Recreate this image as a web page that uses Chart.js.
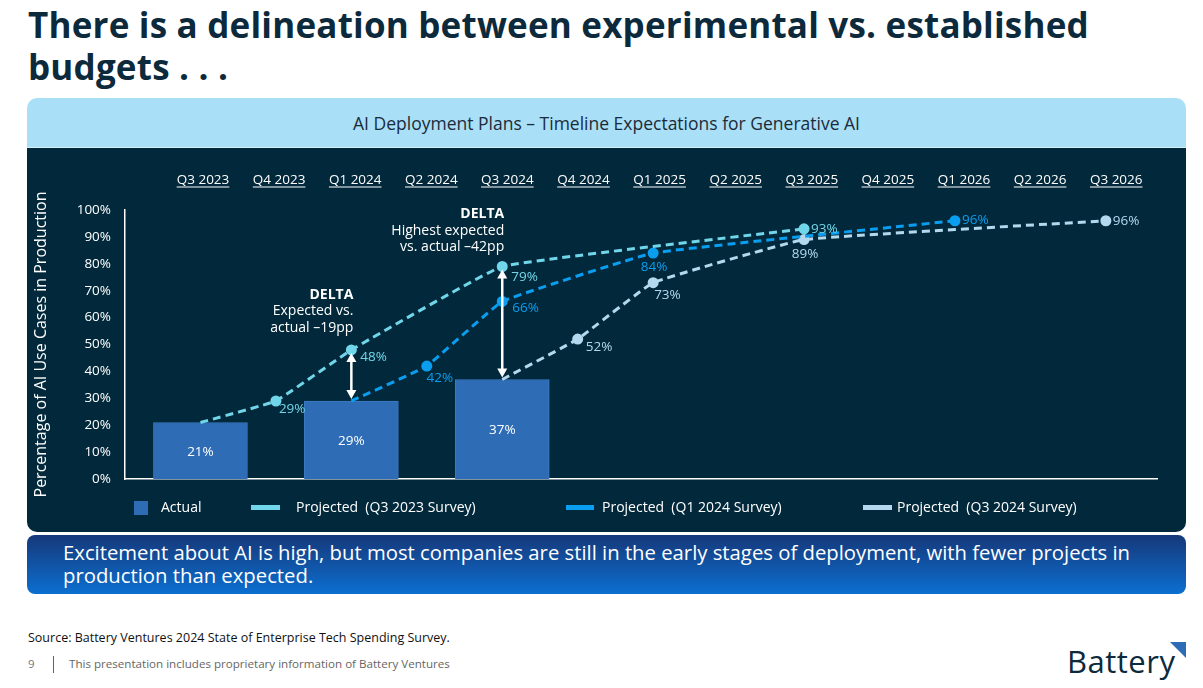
<!DOCTYPE html>
<html>
<head>
<meta charset="utf-8">
<script src="https://cdn.jsdelivr.net/npm/chart.js@4.4.1/dist/chart.umd.min.js"></script>
<style>
  body { margin: 0; width: 1203px; height: 688px; background: #fff; position: relative; overflow: hidden;
         font-family: "Open Sans", "Noto Sans", sans-serif; }
  .abs { position: absolute; }
  #title { left: 28px; top: 4px; font-size: 35px; font-weight: 700; line-height: 42px; color: #0c2a3c; letter-spacing: 0.2px; }
  #header { left: 27px; top: 98px; width: 1159px; height: 49px; background: #a9dff7; border-radius: 10px 10px 0 0;
            border-bottom: 1px solid #d8eef9; text-align: center; line-height: 50px; font-size: 17.5px; color: #1b2b3a; }
  #panel { left: 27px; top: 148px; width: 1159px; height: 384px; background: #02293b; border-radius: 0 0 10px 10px; }
  #legend { left: 0; top: 0; width: 1203px; }
  .lg { position: absolute; top: 498px; font-size: 14px; color: #fff; line-height: 18px; white-space: pre; }
  .sw { position: absolute; }
  #banner { left: 27px; top: 535px; width: 1159px; height: 59px; border-radius: 8px;
            background: linear-gradient(#16387a, #0b6fd0); color: #fff; font-size: 20.3px; line-height: 23px;
            box-sizing: border-box; padding: 6px 40px 0 36px; }
  #source { left: 28px; top: 629px; font-size: 12.5px; color: #111; }
  #pg { left: 28px; top: 656px; font-size: 11.5px; color: #777; }
  #sep { left: 53px; top: 656px; width: 1px; height: 17px; background: #2e6db6; }
  #prop { left: 69px; top: 656px; font-size: 11.6px; color: #666; }
  #logo { left: 1067px; top: 640px; font-size: 31px; color: #0c2a3c; letter-spacing: 0.5px; }
  #tri { left: 1170px; top: 642px; width: 16px; height: 16px; background: #2e6db6; clip-path: polygon(0 0, 100% 0, 100% 100%); }
</style>
</head>
<body>
<div id="title" class="abs">There is a delineation between experimental vs. established<br>budgets . . .</div>
<div id="header" class="abs">AI Deployment Plans – Timeline Expectations for Generative AI</div>
<div id="panel" class="abs"><canvas id="chart" width="1159" height="384"></canvas></div>
<div id="legend" class="abs"></div>
<div id="banner" class="abs">Excitement about AI is high, but most companies are still in the early stages of deployment, with fewer projects in production than expected.</div>
<div id="source" class="abs">Source: Battery Ventures 2024 State of Enterprise Tech Spending Survey.</div>
<div id="pg" class="abs">9</div>
<div id="sep" class="abs"></div>
<div id="prop" class="abs">This presentation includes proprietary information of Battery Ventures</div>
<div id="logo" class="abs">Battery</div>
<div id="tri" class="abs"></div>
<script>
const quarters = ['Q3 2023', 'Q4 2023', 'Q1 2024', 'Q2 2024', 'Q3 2024', 'Q4 2024', 'Q1 2025',
                  'Q2 2025', 'Q3 2025', 'Q4 2025', 'Q1 2026', 'Q2 2026', 'Q3 2026'];
const yTicks = [0, 10, 20, 30, 40, 50, 60, 70, 80, 90, 100];

// actual share in production (survey quarters only)
const actual = [21, null, 29, null, 37, null, null, null, null, null, null, null, null];
// projections from each survey wave
const projQ3_2023 = [21, 29, 48, null, 79, null, null, null, 93, null, null, null, null];
const projQ1_2024 = [null, null, 29, 42, 66, null, 84, null, null, null, 96, null, null];
const projQ3_2024 = [null, null, null, null, 37, 52, 73, null, 89, null, null, null, 96];

const seriesNames = ['Actual', 'Projected  (Q3 2023 Survey)', 'Projected  (Q1 2024 Survey)', 'Projected  (Q3 2024 Survey)'];
const deltaNotes = [
  { idx: 2, lines: ['DELTA', 'Expected vs.', 'actual –19pp'] },
  { idx: 4, lines: ['DELTA', 'Highest expected', 'vs. actual –42pp'] }
];

const FONT = '"Open Sans", "Noto Sans", sans-serif';
const colBar = '#2e6db5', colCyan = '#72d6ea', colBlue = '#0a9ef0', colPale = '#b4d9ee';

const toXY = arr => arr.map((v, i) => (v == null ? null : { x: i, y: v })).filter(Boolean);
const fmt = v => v + '%';

function lineSet(label, arr, color, offs) {
  const firstIdx = arr.findIndex(v => v != null);
  return {
    type: 'line', label: label, data: toXY(arr), order: 0,
    borderColor: color, backgroundColor: color, borderWidth: 3, borderDash: [8, 5],
    tension: 0.08, spanGaps: true,
    pointRadius: ctx => (ctx.raw && ctx.raw.x === firstIdx ? 0 : 4),
    pointHoverRadius: 4,
    labelOffsets: offs
  };
}

// custom drawing: data labels, delta arrows and notes, underlined quarter labels
const annotate = {
  id: 'annotate',
  afterDatasetsDraw(chart) {
    const c = chart.ctx, xs = chart.scales.x, ys = chart.scales.y;
    c.save();
    c.font = '13.5px ' + FONT;
    c.textBaseline = 'middle';
    // bar labels
    c.fillStyle = '#fff';
    c.textAlign = 'center';
    chart.getDatasetMeta(0).data.forEach((bar, i) => {
      const d = chart.data.datasets[0].data[i];
      c.fillText(fmt(d.y), bar.x, (bar.y + bar.base) / 2 + 1);
    });
    // line labels
    chart.data.datasets.forEach((ds, di) => {
      if (ds.type !== 'line') return;
      c.fillStyle = ds.borderColor;
      chart.getDatasetMeta(di).data.forEach((pt, i) => {
        const o = ds.labelOffsets[i];
        if (!o) return;
        c.textAlign = o[2] || 'left';
        c.fillText(fmt(ds.data[i].y), pt.x + o[0], pt.y + o[1]);
      });
    });
    // delta arrows and notes
    c.strokeStyle = '#fff';
    c.fillStyle = '#fff';
    c.lineWidth = 2.5;
    deltaNotes.forEach(n => {
      const x = xs.getPixelForValue(n.idx);
      const top = ys.getPixelForValue(projQ3_2023[n.idx]) + 3;
      const bot = ys.getPixelForValue(actual[n.idx]) - 2;
      c.beginPath(); c.moveTo(x, top + 6); c.lineTo(x, bot - 6); c.stroke();
      c.beginPath(); c.moveTo(x, top); c.lineTo(x - 5, top + 9); c.lineTo(x + 5, top + 9); c.closePath(); c.fill();
      c.beginPath(); c.moveTo(x, bot); c.lineTo(x - 5, bot - 9); c.lineTo(x + 5, bot - 9); c.closePath(); c.fill();
      c.textAlign = 'right';
      const base = top - 3 - (n.idx === 2 ? 22 : 19);
      n.lines.forEach((t, k) => {
        c.font = (k === 0 ? 'bold 14px ' : '14px ') + FONT;
        c.fillText(t, x + 2, base - (n.lines.length - 1 - k) * 16.5);
      });
    });
    // underline quarter labels
    const xq = chart.scales.xq;
    c.font = '13.5px ' + FONT;
    c.lineWidth = 1;
    quarters.forEach((q, i) => {
      const px = xq.getPixelForValue(i);
      const w = c.measureText(q).width;
      const y = xq.bottom - xq.options.ticks.padding - 8 + 7;
      c.beginPath(); c.moveTo(px - w / 2, y); c.lineTo(px + w / 2, y); c.stroke();
    });
    c.restore();
  }
};

new Chart(document.getElementById('chart'), {
  type: 'bar',
  data: {
    datasets: [
      { type: 'bar', label: seriesNames[0], data: toXY(actual), order: 10,
        backgroundColor: colBar, borderColor: '#3b7bc4', borderWidth: 1, barThickness: 94 },
      lineSet(seriesNames[1], projQ3_2023, colCyan, [null, [3, 8], [9, 7], [9, 11], [7, 0]]),
      lineSet(seriesNames[2], projQ1_2024, colBlue, [null, [13, 12, 'center'], [10, 7], [1, 14, 'center'], [7, -1]]),
      lineSet(seriesNames[3], projQ3_2024, colPale, [null, [8, 8], [1, 13], [1, 15, 'center'], [7, 0]])
    ]
  },
  options: {
    responsive: false,
    animation: false,
    layout: { padding: { left: 0, right: 29, top: 0, bottom: 53 } },
    plugins: { legend: { display: false }, tooltip: { enabled: false } },
    scales: {
      x: {
        type: 'linear', position: 'bottom', min: -1, max: 12.678, offset: false,
        ticks: { display: false },
        grid: { display: false, drawTicks: false, offset: false },
        border: { color: '#ffffff', width: 1.5 },
        afterFit: s => { s.height = 0; }
      },
      xq: {
        type: 'linear', position: 'top', min: -1.025, max: 12.536, offset: false,
        ticks: {
          stepSize: 1, autoSkip: false, maxRotation: 0, includeBounds: false, padding: 22,
          color: '#ffffff', font: { family: FONT, size: 13.5 },
          callback: v => quarters[Math.round(v)] !== undefined && Math.abs(v - Math.round(v)) < 1e-6 ? quarters[Math.round(v)] : null
        },
        grid: { display: false, drawTicks: false, offset: false },
        border: { display: false },
        afterFit: s => { s.height = 62; }
      },
      y: {
        min: 0, max: 100,
        afterBuildTicks: s => { s.ticks = yTicks.map(v => ({ value: v })); },
        ticks: { color: '#ffffff', padding: 14, font: { family: FONT, size: 13.5 }, callback: v => v + '%' },
        grid: { display: false, drawTicks: false },
        border: { color: '#ffffff', width: 1.5 },
        title: { display: true, text: 'Percentage of AI Use Cases in Production', color: '#ffffff',
                 font: { family: FONT, size: 16 }, padding: { top: 5, bottom: 0 } },
        afterFit: s => { s.width = 98; }
      }
    }
  },
  plugins: [annotate]
});

// legend built from the series names and colours
const legendItems = [
  { sw: [134, 501, 14, 14], text: 161, color: colBar },
  { sw: [251, 505, 29, 5], text: 296, color: colCyan },
  { sw: [566, 505, 28, 5], text: 602, color: colBlue },
  { sw: [863, 505, 29, 5], text: 897, color: colPale }
];
const lg = document.getElementById('legend');
legendItems.forEach((it, i) => {
  const s = document.createElement('div');
  s.className = 'sw';
  s.style.cssText = `left:${it.sw[0]}px;top:${it.sw[1]}px;width:${it.sw[2]}px;height:${it.sw[3]}px;background:${it.color}`;
  lg.appendChild(s);
  const t = document.createElement('div');
  t.className = 'lg';
  t.style.left = it.text + 'px';
  t.textContent = seriesNames[i];
  lg.appendChild(t);
});
</script>
</body>
</html>
